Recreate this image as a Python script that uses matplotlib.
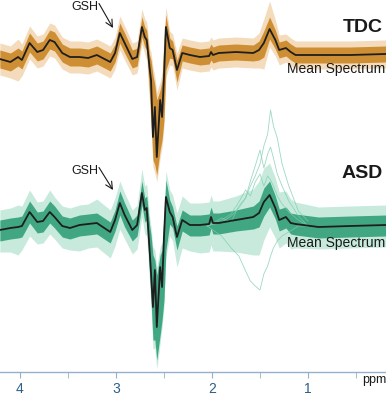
import numpy as np
import matplotlib
matplotlib.use("Agg")
import matplotlib.pyplot as plt

plt.rcParams['font.family'] = ['Liberation Sans', 'DejaVu Sans']

# ---------------- data (amplitude in a.u.) -------------
ppm = [4.21, 4.10, 4.02, 3.98, 3.90, 3.82, 3.76, 3.69, 3.64, 3.56, 3.48, 3.38,
       3.29, 3.20, 3.06, 3.01, 2.96, 2.91, 2.83, 2.78, 2.73, 2.70, 2.68, 2.65,
       2.635, 2.615, 2.595, 2.575, 2.54, 2.52, 2.50, 2.48, 2.44, 2.41, 2.365,
       2.31, 2.23, 2.125, 2.03, 2.01, 1.99, 1.93, 1.75, 1.57, 1.51, 1.46, 1.40,
       1.34, 1.30, 1.23, 1.18, 1.13, 0.89, 0.56, 0.19]

tdc_mean = [-3, -6, -1, -4, 13, 4, 6, 16, 14, 3, -1, -1,
            -2, 1, -6, 3, 23, 13, -3, -1, 29, 19, 16, -12,
            -24, -81, -51, -101, -44, -61, -21, 29, 8, 6, -14,
            3, 1, -1, 0, 4, 1, 3, 4, 3, 6, 13, 27,
            16, 6, 8, 4, 1, 1, 1, 2]

asd_mean = [-4, -2, -1, 0, 14, 4, 5, 14, 9, 0, -2, 1,
            2, 3, -6, 6, 23, 11, -4, 1, 33, 16, 18, -24,
            -47, -81, -44, -101, -41, -61, -11, 29, 14, 9, -11,
            6, 1, 1, 2, 9, 3, 3, 6, 9, 13, 24, 31,
            18, 6, 9, 3, 2, -1, 0, 1]

# spread of the individual spectra around the mean (dense core / faint outer)
tdc_core_up = [9, 9, 9, 9, 10, 9, 9, 10, 10, 9, 9, 9, 9, 9, 9, 9, 10, 10, 9, 9, 10, 10, 10,
               13, 20, 62, 22, 57, 10, 37, 37, 12,
               10, 9, 10,
               8, 8, 8, 8, 8, 8, 8, 8, 8, 9, 12, 12, 10, 8, 8, 8, 8, 8, 8, 8]
tdc_core_lo = [9, 9, 9, 9, 9, 9, 9, 9, 9, 9, 9, 9, 9, 9, 9, 9, 10, 10, 9, 9, 10, 10, 10,
               27, 40, 23, 58, 18, 50, 23, 43, 43,
               10, 9, 12,
               8, 8, 8, 8, 8, 8, 8, 8, 8, 10, 14, 10, 9, 8, 8, 8, 8, 8, 8, 8]
tdc_out_up = [16, 16, 18, 16, 17, 16, 16, 17, 17, 16, 16, 16, 16, 16, 16, 16, 17, 17, 16, 16, 18, 18, 18,
              20, 28, 70, 30, 65, 18, 45, 45, 20,
              17, 16, 17,
              15, 15, 15, 15, 15, 15, 15, 15, 15, 17, 24, 28, 20, 15, 14, 14, 14, 14, 14, 14]
tdc_out_lo = [16, 16, 24, 16, 16, 16, 16, 16, 16, 16, 16, 16, 16, 16, 16, 16, 17, 17, 16, 16, 17, 17, 20,
              35, 48, 30, 66, 25, 58, 30, 50, 50,
              17, 16, 20,
              15, 15, 15, 15, 15, 15, 15, 15, 15, 18, 26, 18, 16, 15, 14, 14, 14, 14, 14, 14]

asd_core_up = [10, 10, 10, 10, 11, 10, 10, 11, 11, 10, 10, 10, 10, 10, 10, 10, 12, 12, 10, 10, 12, 12, 12,
               25, 38, 52, 10, 52, 12, 37, 22, 17,
               12, 10, 11,
               10, 10, 10, 10, 10, 10, 10, 10, 11, 12, 14, 14, 12, 11, 10, 10, 10, 10, 10, 10]
asd_core_lo = [11, 11, 11, 11, 11, 11, 11, 11, 11, 11, 11, 11, 11, 11, 11, 11, 12, 12, 11, 11, 12, 12, 12,
               25, 27, 33, 70, 33, 68, 33, 63, 53,
               12, 11, 13,
               11, 11, 11, 11, 11, 11, 11, 11, 12, 14, 14, 12, 11, 11, 11, 11, 11, 11, 11, 11]
asd_out_up = [20, 20, 22, 20, 22, 20, 20, 22, 20, 20, 20, 20, 20, 24, 22, 22, 22, 22, 20, 20, 24, 24, 24,
              33, 46, 60, 20, 60, 20, 45, 30, 26,
              22, 22, 24,
              24, 22, 22, 22, 22, 22, 22, 24, 28, 32, 34, 32, 30, 28, 26, 24, 22, 20, 20, 20]
asd_out_lo = [22, 24, 28, 24, 24, 22, 22, 22, 22, 22, 22, 26, 24, 24, 26, 26, 26, 24, 24, 24, 24, 24, 28,
              33, 35, 42, 78, 42, 76, 40, 70, 60,
              24, 24, 30,
              28, 26, 28, 28, 28, 28, 28, 32, 38, 42, 38, 32, 30, 28, 26, 26, 24, 22, 22, 22]

# a few outlying ASD spectra in the 1-2 ppm region
out_ppm = [2.05, 1.90, 1.80, 1.72, 1.65, 1.60, 1.55, 1.50, 1.46, 1.42, 1.39,
           1.36, 1.32, 1.27, 1.20, 1.10, 1.00]
asd_out1 = [0, 8, 4, 20, 28, 40, 50, 62, 80, 92, 116, 100, 88, 62, 40, 15, 5]
asd_out2 = [0, 4, 10, 18, 28, 45, 60, 76, 58, 72, 79, 68, 52, 40, 25, 10, 0]
asd_out3 = [0, -10, -22, -30, -45, -55, -60, -64, -48, -40, -30, -22, -15, -10, -6, 0, 0]
asd_out4 = [0, 6, 12, 24, 36, 30, 44, 52, 40, 50, 46, 40, 30, 22, 14, 6, 0]

tdc_offset = -56
asd_offset = -226

# ---------------- figure -------------------------------------------------------
W, H = 386, 400
fig = plt.figure(figsize=(W / 100, H / 100), dpi=100)
ax = fig.add_axes([0, 28 / H, 1, 372 / H])
x0 = 4.2083
def px(x):
    return x0 - x / 96.0

ax.set_xlim(px(0), px(386))
ax.set_ylim(-372, 0)

ppm_a = np.array(ppm)
groups = [
    (tdc_mean, tdc_core_up, tdc_core_lo, tdc_out_up, tdc_out_lo, tdc_offset, '#c8821c', '#ebc48f'),
    (asd_mean, asd_core_up, asd_core_lo, asd_out_up, asd_out_lo, asd_offset, '#2a9c74', '#a3dcc6'),
]
for mean, cu, cl, ou, ol, off, c_core, c_out in groups:
    m = np.array(mean) + off
    ax.fill_between(ppm_a, m - np.array(ol), m + np.array(ou),
                    color=c_out, alpha=0.6, lw=0)
    ax.fill_between(ppm_a, m - np.array(cl), m + np.array(cu),
                    color=c_core, alpha=0.85, lw=0)

for tr in (asd_out1, asd_out2, asd_out3, asd_out4):
    ax.plot(out_ppm, np.array(tr) + asd_offset, color='#7ccdb0', lw=0.6, alpha=0.75)

ax.plot(ppm_a, np.array(tdc_mean) + tdc_offset, color='#1e1e1e', lw=1.3)
ax.plot(ppm_a, np.array(asd_mean) + asd_offset, color='#1e1e1e', lw=1.3)

# axes styling
for s in ('top', 'left', 'right'):
    ax.spines[s].set_visible(False)
ax.spines['bottom'].set_color('#93b2c9')
ax.spines['bottom'].set_linewidth(1.0)
ax.set_yticks([])
ax.set_xticks([4, 3, 2, 1])
ax.set_xticklabels(['4', '3', '2', '1'])
ax.set_xticks([3.5, 2.5, 1.5, 0.5], minor=True)
ax.tick_params(axis='x', which='both', direction='out', length=4,
               color='#93b2c9', labelcolor='#2d5e86', labelsize=10, pad=3)
ax.patch.set_alpha(0)

# labels
ax.text(px(383), -28, 'TDC', fontsize=14, fontweight='bold', ha='right', va='center', color='#1a1a1a')
ax.text(px(383), -173, 'ASD', fontsize=14, fontweight='bold', ha='right', va='center', color='#1a1a1a')
ax.text(px(385), -69, 'Mean Spectrum', fontsize=10, ha='right', va='center', color='#1a1a1a')
ax.text(px(385), -243, 'Mean Spectrum', fontsize=10, ha='right', va='center', color='#1a1a1a')
fig.text(362 / W, 1 - 380 / H, 'ppm', fontsize=9, ha='left', va='center', color='#1a1a1a')

for ty, ay in ((-7.5, -28), (-171.5, -190)):
    ax.text(px(85), ty, 'GSH', fontsize=9, ha='center', va='center', color='#1a1a1a')
    ax.annotate('', xy=(px(113), ay), xytext=(px(99), ty + 4),
                arrowprops=dict(arrowstyle='->,head_length=0.5,head_width=0.25',
                                color='#1a1a1a', lw=0.8, shrinkA=0, shrinkB=0))

fig.savefig('out.png', dpi=100)
